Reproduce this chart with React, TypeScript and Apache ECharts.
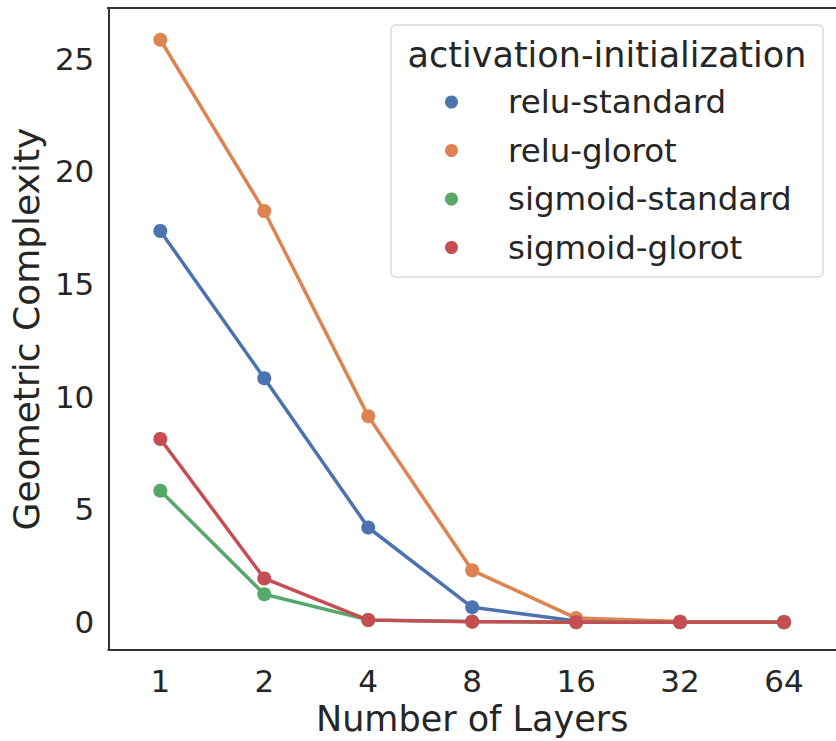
import React, { useEffect, useRef } from "react";
import * as echarts from "echarts";

const layers = ["1", "2", "4", "8", "16", "32", "64"];
const reluStandard = [17.36, 10.82, 4.2, 0.66, 0.05, 0.01, 0.0];
const reluGlorot = [25.84, 18.24, 9.14, 2.3, 0.18, 0.03, 0.01];
const sigmoidStandard = [5.83, 1.24, 0.1, 0.03, 0.0, 0.0, 0.0];
const sigmoidGlorot = [8.13, 1.94, 0.09, 0.02, 0.0, 0.0, 0.0];
const yTicks = [0, 5, 10, 15, 20, 25];
const seriesNames = ["relu-standard", "relu-glorot", "sigmoid-standard", "sigmoid-glorot"];
const seriesColors = ["#4C72B0", "#DD8452", "#55A868", "#C44E52"];
const seriesData = [reluStandard, reluGlorot, sigmoidStandard, sigmoidGlorot];

const FONT = "DejaVu Sans";
const TEXT = "#262626";

export default function App() {
  const ref = useRef<HTMLDivElement>(null);
  useEffect(() => {
    if (!ref.current) return;
    const chart = echarts.init(ref.current, undefined, { renderer: "svg" });
    chart.setOption({
      animation: false,
      backgroundColor: "#ffffff",
      grid: { left: 107, top: 8, right: -2.5, bottom: 88, containLabel: false },
      xAxis: {
        type: "category",
        data: layers,
        boundaryGap: true,
        axisLine: { show: true, onZero: false, lineStyle: { color: "#333", width: 2 } },
        axisTick: { show: false },
        axisLabel: { color: TEXT, fontSize: 31, fontFamily: FONT, margin: 15 },
        name: "Number of Layers",
        nameLocation: "middle",
        nameGap: 48,
        nameTextStyle: { color: TEXT, fontSize: 35, fontFamily: FONT },
        splitLine: { show: false },
      },
      yAxis: {
        type: "value",
        min: -1.24,
        max: 27.25,
        axisLine: { show: true, onZero: false, lineStyle: { color: "#333", width: 2 } },
        axisTick: { show: false },
        axisLabel: {
          color: TEXT,
          fontSize: 31,
          fontFamily: FONT,
          margin: 14,
          customValues: yTicks,
        },
        splitLine: { show: false },
        name: "Geometric Complexity",
        nameLocation: "middle",
        nameGap: 52,
        nameTextStyle: { color: TEXT, fontSize: 36, fontFamily: FONT },
      },
      legend: {
        show: true,
        orient: "vertical",
        left: 445,
        top: 84,
        padding: 0,
        itemGap: 12.5,
        itemWidth: 13,
        itemHeight: 13,
        icon: "circle",
        z: 30,
        data: seriesNames,
        textStyle: {
          color: TEXT,
          fontSize: 32.5,
          fontFamily: FONT,
          lineHeight: 36,
          padding: [0, 0, 0, 45],
        },
      },
      graphic: [
        {
          type: "rect",
          shape: { x: 391, y: 25, width: 432, height: 252, r: 5 },
          style: { fill: "rgba(255,255,255,0.85)", stroke: "#d9d9d9", lineWidth: 1.5 },
          z: 10,
        },
        {
          type: "line",
          shape: { x1: 107, y1: 8, x2: 836, y2: 8 },
          style: { stroke: "#333", lineWidth: 2 },
          z: 10,
        },
        {
          type: "text",
          x: 607,
          y: 55,
          style: {
            text: "activation-initialization",
            fill: TEXT,
            fontSize: 35,
            fontFamily: FONT,
            align: "center",
            verticalAlign: "middle",
          },
          z: 11,
        },
      ],
      series: seriesNames.map((name, i) => ({
        name,
        type: "line",
        data: seriesData[i],
        symbol: "circle",
        symbolSize: 14,
        showSymbol: true,
        lineStyle: { width: 3.5, color: seriesColors[i] },
        itemStyle: { color: seriesColors[i] },
        z: 2 + i,
      })),
    });
    return () => chart.dispose();
  }, []);
  return (
    <div
      ref={ref}
      style={{ position: "absolute", left: 0, top: 0, width: 836, height: 741 }}
    />
  );
}
